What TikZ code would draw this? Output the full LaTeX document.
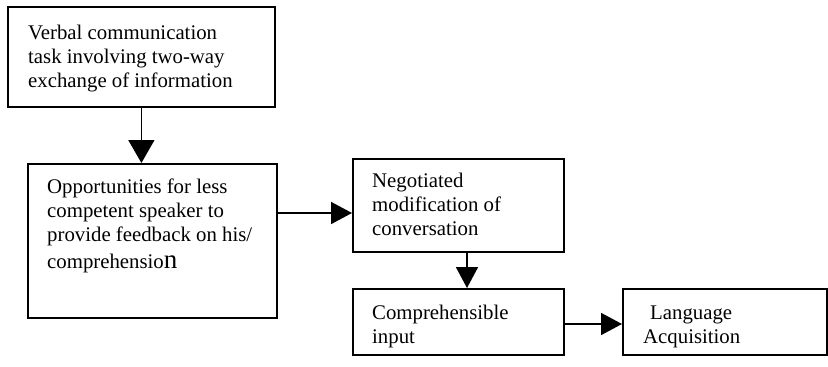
\documentclass[tikz,border=0pt]{standalone}
\usepackage{fontspec}
\setmainfont{Liberation Serif}
\usetikzlibrary{arrows.meta,calc}
\tikzset{
  box/.style={draw=black, line width=1.8pt, rectangle, inner sep=0pt, anchor=north west},
  txt/.style={anchor=base west, inner sep=0pt, font=\fontsize{20.8}{24}\selectfont},
  arr/.style={line width=1.7pt, -{Triangle[width=22pt,length=21pt]}},
  bigarr/.style={line width=1.7pt, -{Triangle[width=26pt,length=23pt]}}
}
\newcommand{\boxtext}[1]{\parbox[t]{260pt}{\raggedright #1}}
\begin{document}
\begin{tikzpicture}[x=1pt,y=-1pt]
\useasboundingbox (0,0) rectangle (828,367);
% boxes
\node[box, minimum width=267pt, minimum height=100pt] (b1) at (7,6) {};
\node[box, minimum width=249pt, minimum height=154pt] (b2) at (27,163) {};
\node[box, minimum width=211pt, minimum height=93pt] (b3) at (352,158) {};
\node[box, minimum width=211pt, minimum height=66pt] (b4) at (352,288) {};
\node[box, minimum width=204pt, minimum height=66pt] (b5) at (622,288) {};
% texts
\node[txt] (t1) at (28,39) {\boxtext{Verbal communication\\task involving two-way\\exchange of information}};
\node[txt] (t2) at (47,193) {\boxtext{Opportunities for less\\competent speaker to\\provide feedback on his/}};
\node[txt] (t2b) at (47,268) {comprehensio{\fontsize{27}{27}\selectfont n}};
\node[txt] (t3) at (372,187) {\boxtext{Negotiated\\modification of\\conversation}};
\node[txt] (t4) at (372,319) {\boxtext{Comprehensible\\input}};
\node[txt] (t5) at (650,319) {Language};
\node[txt] (t6) at (643,343) {Acquisition};
% connectors
\draw[bigarr] (b1.south) -- (b1.south |- b2.north);
\draw[arr] (b2.east |- 0,213) -- (b3.west |- 0,213);
\draw[arr] (b3.south -| 467,0) -- (b4.north -| 467,0);
\draw[arr] (b4.east |- 0,324) -- (b5.west |- 0,324);
\end{tikzpicture}
\end{document}
